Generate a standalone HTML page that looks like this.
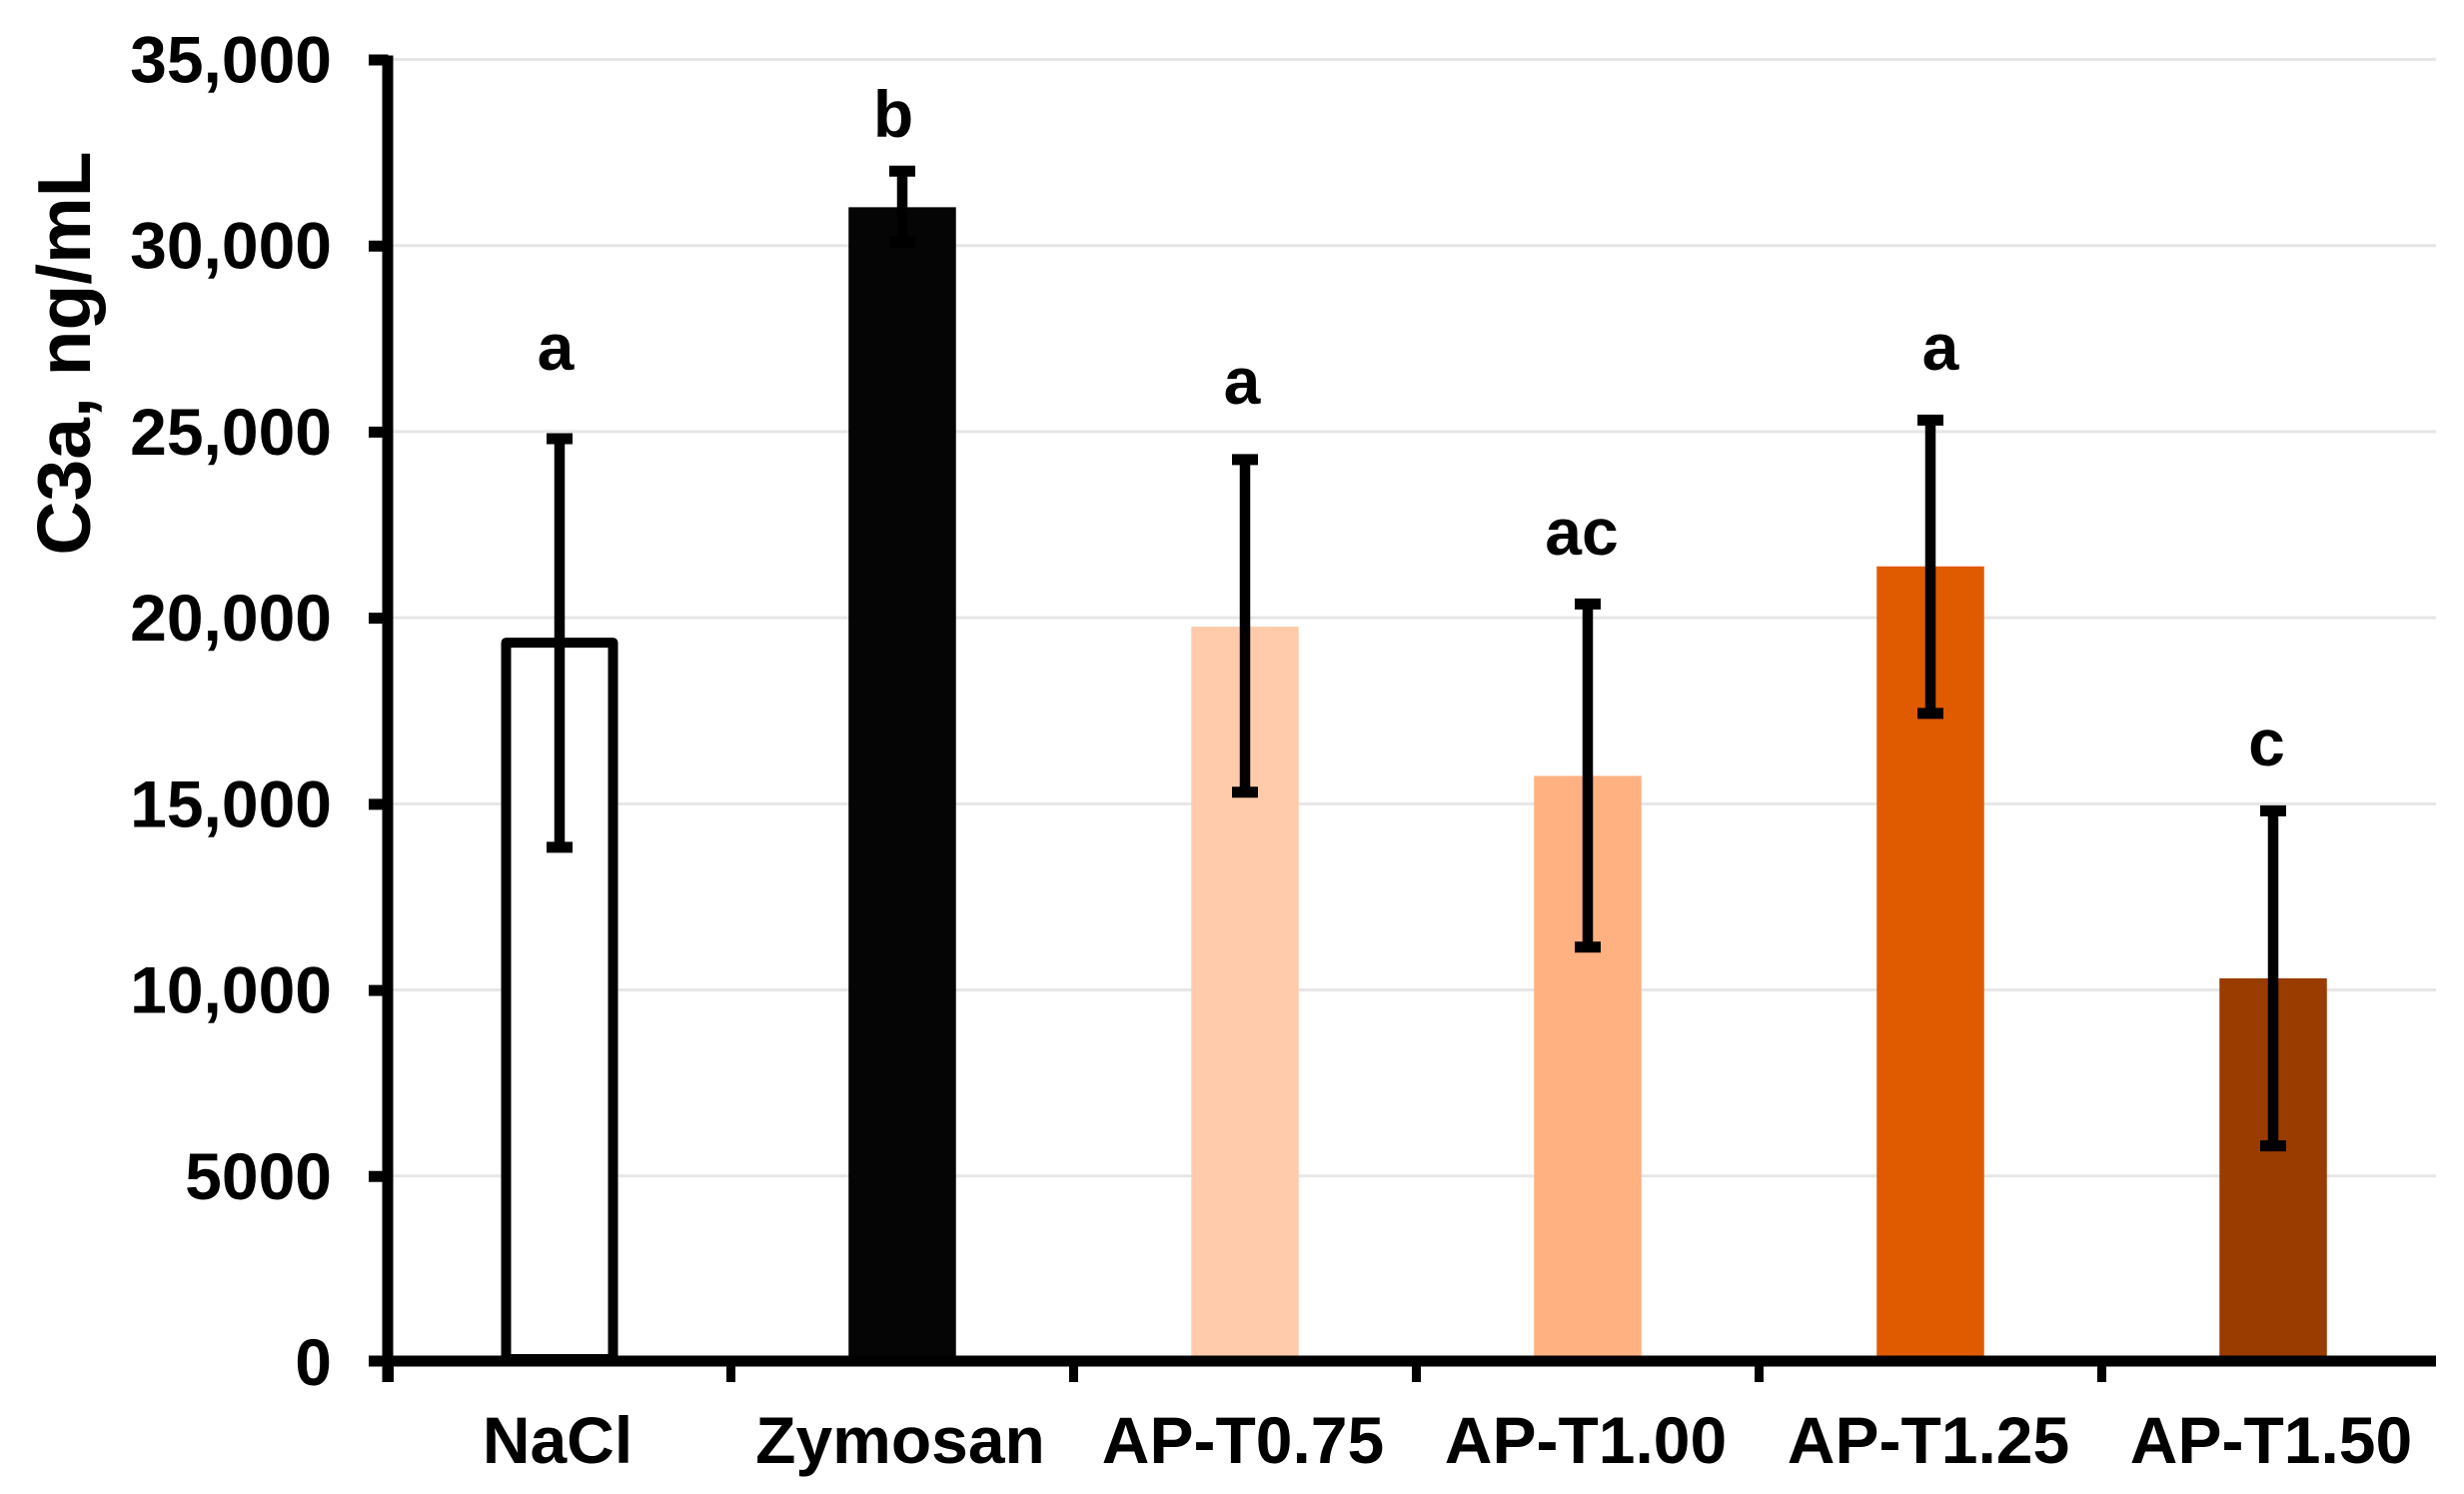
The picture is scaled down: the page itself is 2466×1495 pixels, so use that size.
<!DOCTYPE html>
<html lang="en">
<head>
<meta charset="utf-8">
<title>C3a concentration by treatment</title>
<style>
  html, body { margin: 0; padding: 0; background: #ffffff; }
  svg { display: block; }
  text { font-family: "Liberation Sans", Arial, sans-serif; font-weight: bold; fill: #000000; }
</style>
</head>
<body>
<svg id="chart" xmlns="http://www.w3.org/2000/svg" width="2466" height="1495" viewBox="0 0 2466 1495">
  <rect x="0" y="0" width="2466" height="1495" fill="#ffffff"></rect>
  <g id="grid"></g>
  <g id="bars"></g>
  <g id="errors"></g>
  <g id="axes"></g>
  <g id="labels"></g>
  <text transform="translate(90 353.5) rotate(-90)" text-anchor="middle" font-size="75">C3a, ng/mL</text>
  <g font-size="66" text-anchor="middle">
    <text x="556" y="370">a</text>
    <text x="894" y="137">b</text>
    <text x="1243" y="404">a</text>
    <text x="1583" y="555">ac</text>
    <text x="1942" y="370">a</text>
    <text x="2268.500" y="766">c</text>
  </g>
</svg>
<script>
const categories = ["NaCl", "Zymosan", "AP-T0.75", "AP-T1.00", "AP-T1.25", "AP-T1.50"];
const meanValues = [19330, 31030, 19760, 15750, 21380, 10310];
const errorHigh = [24810, 32000, 24250, 20370, 25310, 14810];
const errorLow = [13830, 30100, 15310, 11150, 17430, 5810];
const barColors = ["#ffffff", "#050505", "#ffcbaa", "#ffb182", "#e05a00", "#9a3b00"];
const tickValues = [0, 5000, 10000, 15000, 20000, 25000, 30000, 35000];
const tickLabels = ["0", "5000", "10,000", "15,000", "20,000", "25,000", "30,000", "35,000"];

const NS = "http://www.w3.org/2000/svg";
const yMax = 35000;
const plotBottom = 1363;
const plotTop = 59.5;
const axisLeft = 388.5;
const axisRight = 2438;
const bandWidth = 343;
const barWidth = 107.5;
const capWidth = 26;

function yScale(v) {
  return plotBottom - (v / yMax) * (plotBottom - plotTop);
}
function xBandStart(i) {
  return axisLeft + i * bandWidth;
}
function xCenter(i) {
  return xBandStart(i) + bandWidth / 2;
}
function make(tag, parentId) {
  const el = document.createElementNS(NS, tag);
  document.getElementById(parentId).appendChild(el);
  return el;
}
function setAll(el, attrs) {
  Object.keys(attrs).forEach(function (k) { el.setAttribute(k, attrs[k]); });
}

tickValues.forEach(function (v, i) {
  const y = yScale(v);
  if (v > 0) {
    const line = make("line", "grid");
    
    
    setAll(line, { x1: axisLeft + 5, x2: axisRight, y1: y, y2: y, stroke: "#e6e6e6", "stroke-width": 3 });
  }
  const tick = make("line", "axes");
  
  
  setAll(tick, { x1: 369, x2: axisLeft, y1: y + (v > 0 ? 0.5 : -1), y2: y + (v > 0 ? 0.5 : -1), stroke: "#000000", "stroke-width": 11 });
  const label = make("text", "labels");
  
  
  setAll(label, { x: 332, y: y + 23, "text-anchor": "end", "font-size": 66 });
  label.textContent = tickLabels[i];
});

categories.forEach(function (name, i) {
  const cx = xCenter(i);
  const top = yScale(meanValues[i]);
  const bar = make("rect", "bars");
  
  
  if (i === 0) {
    setAll(bar, { x: cx - 53.5, y: top, width: 107, height: plotBottom - 3 - top, fill: "#ffffff", stroke: "#000000", "stroke-width": 10, "stroke-linejoin": "round" });
  } else {
    setAll(bar, { x: cx - barWidth / 2, y: top, width: barWidth, height: plotBottom - top, fill: barColors[i] });
  }

  const hi = yScale(errorHigh[i]);
  const lo = yScale(errorLow[i]);
  const stem = make("line", "errors");
  
  
  setAll(stem, { x1: cx, x2: cx, y1: hi, y2: lo, stroke: "#000000", "stroke-width": 10.5 });
  const capTop = make("line", "errors");
  
  
  setAll(capTop, { x1: cx - capWidth / 2, x2: cx + capWidth / 2, y1: hi, y2: hi, stroke: "#000000", "stroke-width": 11 });
  const capLow = make("line", "errors");
  
  
  setAll(capLow, { x1: cx - capWidth / 2, x2: cx + capWidth / 2, y1: lo, y2: lo, stroke: "#000000", "stroke-width": 11 });

  const tick = make("line", "axes");
  
  
  setAll(tick, { x1: xBandStart(i), x2: xBandStart(i), y1: plotBottom - 1, y2: 1383, stroke: "#000000", "stroke-width": i === 0 ? 11 : 9 });

  const label = make("text", "labels");
  
  
  setAll(label, { x: cx - 2, y: 1464, "text-anchor": "middle", "font-size": 66 });
  label.textContent = name;
});

const yAxis = make("line", "axes");


setAll(yAxis, { x1: axisLeft - 0.5, x2: axisLeft - 0.5, y1: plotTop - 4, y2: 1383, stroke: "#000000", "stroke-width": 11 });

const xAxis = make("line", "axes");


setAll(xAxis, { x1: 369, x2: axisRight, y1: plotBottom - 1, y2: plotBottom - 1, stroke: "#000000", "stroke-width": 11 });
</script>
</body>
</html>
